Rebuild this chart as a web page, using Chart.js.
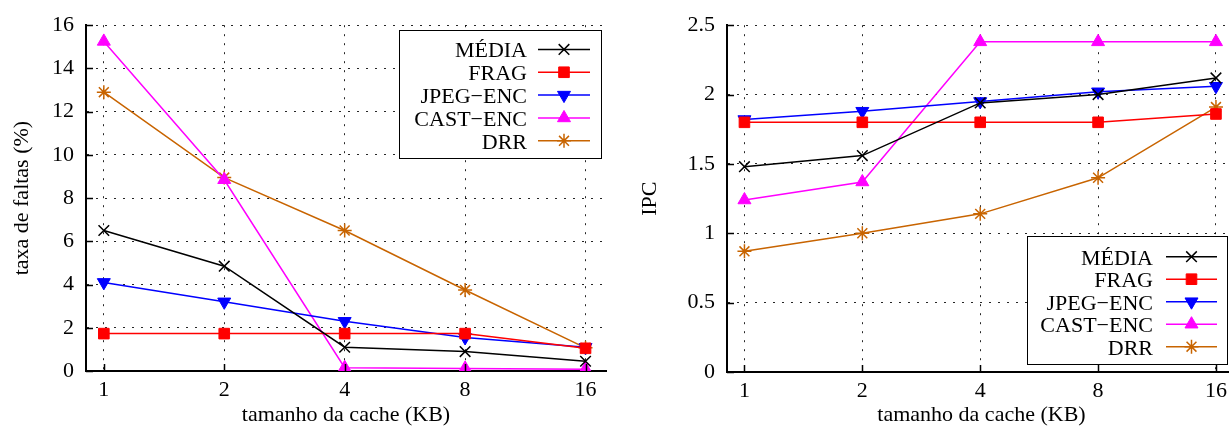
<!DOCTYPE html>
<html>
<head>
<meta charset="utf-8">
<script src="https://cdn.jsdelivr.net/npm/chart.js@4.4.1/dist/chart.umd.min.js"></script>
<style>
  html, body { margin: 0; padding: 0; background: #fff; overflow: hidden; }
  #wrap { position: relative; width: 1229px; height: 429px; overflow: hidden; background: #fff; }
  #missChart { position: absolute; left: 0; top: 0; }
  #ipcChart { position: absolute; left: 615px; top: 0; }
</style>
</head>
<body>
<div id="wrap">
  <canvas id="missChart" width="615" height="429"></canvas>
  <canvas id="ipcChart" width="630" height="429"></canvas>
</div>
<script>
// Cache sizes (KB) on the x axis
const cacheSizes = ['1', '2', '4', '8', '16'];
const seriesNames = ['MÉDIA', 'FRAG', 'JPEG−ENC', 'CAST−ENC', 'DRR'];

// Miss rate (%) per cache size
const missMedia = [6.5, 4.85, 1.1, 0.9, 0.45];
const missFrag  = [1.73, 1.73, 1.73, 1.73, 1.05];
const missJpeg  = [4.1, 3.2, 2.3, 1.55, 1.1];
const missCast  = [15.25, 8.85, 0.15, 0.12, 0.08];
const missDrr   = [12.9, 8.95, 6.5, 3.75, 1.07];

// IPC per cache size
const ipcMedia = [1.48, 1.56, 1.94, 2.0, 2.12];
const ipcFrag  = [1.8, 1.8, 1.8, 1.8, 1.86];
const ipcJpeg  = [1.82, 1.88, 1.95, 2.02, 2.06];
const ipcCast  = [1.24, 1.37, 2.38, 2.38, 2.38];
const ipcDrr   = [0.87, 1.0, 1.14, 1.40, 1.91];

// Tick values on the y axes
const missTicks = [0, 2, 4, 6, 8, 10, 12, 14, 16];
const ipcTicks  = [0, 0.5, 1, 1.5, 2, 2.5];

const FONT_FAMILY = '"Liberation Serif", "Times New Roman", serif';
const FONT = { family: FONT_FAMILY, size: 22 };

// Per-series line/marker styles
const styles = [
  { color: '#000000', pointStyle: 'crossRot', radius: 7.5, pbw: 1.5, rot: 0 },
  { color: '#ff0000', pointStyle: 'rect', radius: 7.5, pbw: 1, rot: 0 },
  { color: '#0000ff', pointStyle: 'triangle', radius: 7.5, pbw: 1, rot: 180 },
  { color: '#ff00ff', pointStyle: 'triangle', radius: 7.5, pbw: 1, rot: 0 },
  { color: '#c86400', pointStyle: 'star', radius: 7, pbw: 1.5, rot: 0 }
];

function makeDatasets(seriesList) {
  return seriesList.map((vals, i) => {
    const s = styles[i];
    return {
      label: seriesNames[i],
      data: vals.map((v, k) => ({ x: k, y: v })),
      borderColor: s.color,
      backgroundColor: s.color,
      borderWidth: 1.5,
      tension: 0,
      fill: false,
      pointStyle: s.pointStyle,
      pointRadius: s.radius,
      pointRotation: s.rot,
      pointBorderWidth: s.pbw,
      pointBorderColor: s.color,
      pointBackgroundColor: s.color
    };
  });
}

// Short inward tick marks on the left and bottom axes
const inwardTicks = {
  id: 'inwardTicks',
  afterDatasetsDraw(chart) {
    const { ctx, chartArea, scales } = chart;
    ctx.save();
    ctx.strokeStyle = '#000';
    ctx.lineWidth = 1.5;
    ctx.beginPath();
    scales.y.ticks.forEach(t => {
      const y = Math.round(scales.y.getPixelForValue(t.value)) + 0.5;
      ctx.moveTo(chartArea.left, y);
      ctx.lineTo(chartArea.left + 7, y);
    });
    scales.x.ticks.forEach(t => {
      const x = Math.round(scales.x.getPixelForValue(t.value)) + 0.5;
      ctx.moveTo(x, chartArea.bottom);
      ctx.lineTo(x, chartArea.bottom - 7);
    });
    ctx.stroke();
    ctx.restore();
  }
};

// Boxed key: label right-aligned, then a line sample with its marker
const boxKey = {
  id: 'boxKey',
  afterDraw(chart, args, o) {
    const ctx = chart.ctx;
    ctx.save();
    ctx.fillStyle = '#fff';
    ctx.fillRect(o.x, o.y, o.w, o.h);
    ctx.strokeStyle = '#000';
    ctx.lineWidth = 1;
    ctx.strokeRect(o.x + 0.5, o.y + 0.5, o.w, o.h);
    chart.data.datasets.forEach((ds, i) => {
      const y = o.rowStart + i * o.rowStep;
      ctx.font = '22px ' + FONT_FAMILY;
      ctx.textAlign = 'right';
      ctx.textBaseline = 'alphabetic';
      ctx.fillStyle = '#000';
      ctx.fillText(ds.label, o.textRight, y + 8);
      ctx.strokeStyle = ds.borderColor;
      ctx.lineWidth = ds.borderWidth;
      ctx.beginPath();
      ctx.moveTo(o.lineFrom, y);
      ctx.lineTo(o.lineTo, y);
      ctx.stroke();
      ctx.fillStyle = ds.pointBackgroundColor;
      ctx.strokeStyle = ds.pointBorderColor;
      ctx.lineWidth = ds.pointBorderWidth;
      Chart.helpers.drawPoint(ctx, {
        pointStyle: ds.pointStyle,
        rotation: ds.pointRotation,
        radius: ds.pointRadius,
        borderWidth: ds.pointBorderWidth
      }, (o.lineFrom + o.lineTo) / 2, y);
    });
    ctx.restore();
  }
};

function makeChart(canvasId, seriesList, yTicks, yTitle, geo) {
  const gridColor = 'rgba(0,0,0,0.85)';
  return new Chart(document.getElementById(canvasId), {
    type: 'line',
    data: { datasets: makeDatasets(seriesList) },
    plugins: [inwardTicks, boxKey],
    options: {
      responsive: false,
      animation: false,
      devicePixelRatio: 1,
      layout: { padding: { left: 0, top: geo.top, right: geo.right, bottom: 0 } },
      plugins: {
        legend: { display: false },
        tooltip: { enabled: false },
        boxKey: geo.key
      },
      scales: {
        x: {
          type: 'linear',
          min: -0.148,
          max: 4.17,
          afterBuildTicks: s => { s.ticks = cacheSizes.map((_, i) => ({ value: i })); },
          afterFit: s => { s.height = geo.xHeight; },
          ticks: {
            callback: (v, i) => cacheSizes[i],
            font: FONT, color: '#000', padding: 6,
            maxRotation: 0, autoSkip: false
          },
          grid: { color: gridColor, lineWidth: 1, drawTicks: false },
          border: { display: true, color: '#000', width: 2, dash: [2, 7] },
          title: {
            display: true, text: 'tamanho da cache (KB)',
            font: FONT, color: '#000', padding: { top: 0, bottom: 1 }
          }
        },
        y: {
          type: 'linear',
          min: yTicks[0],
          max: yTicks[yTicks.length - 1],
          afterBuildTicks: s => { s.ticks = yTicks.map(v => ({ value: v })); },
          afterFit: s => { s.width = geo.yWidth; },
          ticks: {
            callback: v => String(v),
            font: FONT, color: '#000', padding: 12
          },
          grid: { color: gridColor, lineWidth: 1, drawTicks: false },
          border: { display: true, color: '#000', width: 2, dash: [2, 7] },
          title: {
            display: true, text: yTitle,
            font: FONT, color: '#000', padding: { top: geo.yTitlePad, bottom: 0 }
          }
        }
      }
    }
  });
}

makeChart('missChart',
  [missMedia, missFrag, missJpeg, missCast, missDrr],
  missTicks, 'taxa de faltas (%)',
  {
    top: 22, right: 3, xHeight: 58, yWidth: 86, yTitlePad: 9,
    key: { x: 399, y: 30, w: 202, h: 128, textRight: 527, lineFrom: 538, lineTo: 590, rowStart: 49.4, rowStep: 22.85 }
  });

makeChart('ipcChart',
  [ipcMedia, ipcFrag, ipcJpeg, ipcCast, ipcDrr],
  ipcTicks, 'IPC',
  {
    top: 25, right: 7, xHeight: 57, yWidth: 112, yTitlePad: 22,
    key: { x: 412, y: 236, w: 200, h: 128, textRight: 538, lineFrom: 551, lineTo: 602, rowStart: 256.7, rowStep: 22.5 }
  });
</script>
</body>
</html>
